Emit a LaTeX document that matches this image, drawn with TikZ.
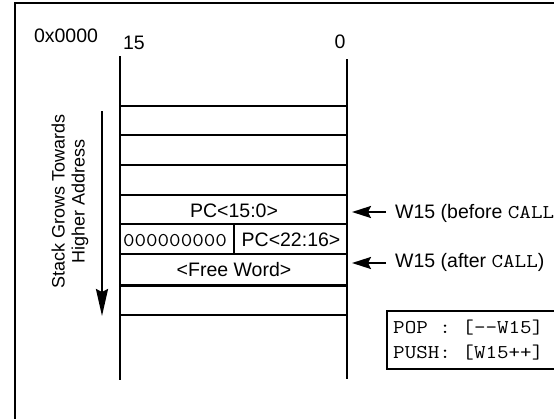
\documentclass[tikz,border=0pt]{standalone}
\usepackage{fontspec}
\setmainfont{Liberation Sans}
\setmonofont[FakeStretch=1.15]{Latin Modern Mono}
\usetikzlibrary{arrows.meta}
\begin{document}
\begin{tikzpicture}[x=1pt,y=-1pt,
  lbl/.style={font=\fontsize{19.5}{22}\selectfont, inner sep=0pt, anchor=base},
  monolbl/.style={font=\ttfamily\fontsize{19.5}{25}\selectfont, inner sep=0pt, anchor=base west},
  sidelbl/.style={font=\fontsize{18}{20}\selectfont, inner sep=0pt, align=center, rotate=90},
  rowline/.style={line width=2.1pt},
  thinline/.style={line width=1.3pt},
  ptr/.style={line width=2.2pt, -{Stealth[length=19pt,width=12pt,inset=3pt]}},
  growarrow/.style={line width=2.2pt, -{Stealth[length=27pt,width=12pt,inset=3pt]}}]
\useasboundingbox (0,0) rectangle (554,418);
\clip (0,0) rectangle (554,418);
% outer frame
\draw[line width=2.6pt] (15,440) -- (15,3) -- (580,3);
% stack sides
\draw[rowline] (120,56) -- (120,380);
\draw[rowline] (347,59) -- (347,379);
% row lines
\foreach \yy in {106,135,165,195,254,315}
  \draw[rowline] (120,\yy) -- (347,\yy);
\draw[thinline] (120,224) -- (347,224);
\draw[line width=3pt] (120,285) -- (347,285);
\draw[thinline] (234,224) -- (234,254);
% labels
\node[lbl] (addr) at (66,42) {0x0000};
\node[lbl] (b15) at (134,49) {15};
\node[lbl] (b0) at (340,48.5) {0};
\node[lbl] (pclo) at (234,217) {PC<15:0>};
\node[lbl] (zeros) at (175,246) {\ttfamily 000000000};
\node[lbl] (pchi) at (291,246) {PC<22:16>};
\node[lbl] (free) at (234,276) {<Free Word>};
% growth direction
\node[sidelbl] (grows) at (70,201.5) {Stack Grows Towards\\Higher Address};
\coordinate (gtop) at (102,111);
\coordinate (gbot) at (102,316);
\draw[growarrow] (gtop) -- (gbot);
% W15 pointers
\coordinate (p1s) at (386,212);
\coordinate (p1e) at (352,212);
\coordinate (p2s) at (386,263);
\coordinate (p2e) at (352,263);
\draw[ptr] (p1s) -- (p1e);
\draw[ptr] (p2s) -- (p2e);
\node[lbl, anchor=base west] (before) at (395,218) {W15 (before \texttt{CALL})};
\node[lbl, anchor=base west] (after) at (395,267) {W15 (after \texttt{CALL})};
% POP/PUSH box
\draw[line width=2.2pt] (590,311) -- (387,311) -- (387,369) -- (590,369);
\node[monolbl] (pop) at (393,333) {POP : [--W15]};
\node[monolbl] (push) at (393,358) {PUSH: [W15++]};
\end{tikzpicture}
\end{document}
